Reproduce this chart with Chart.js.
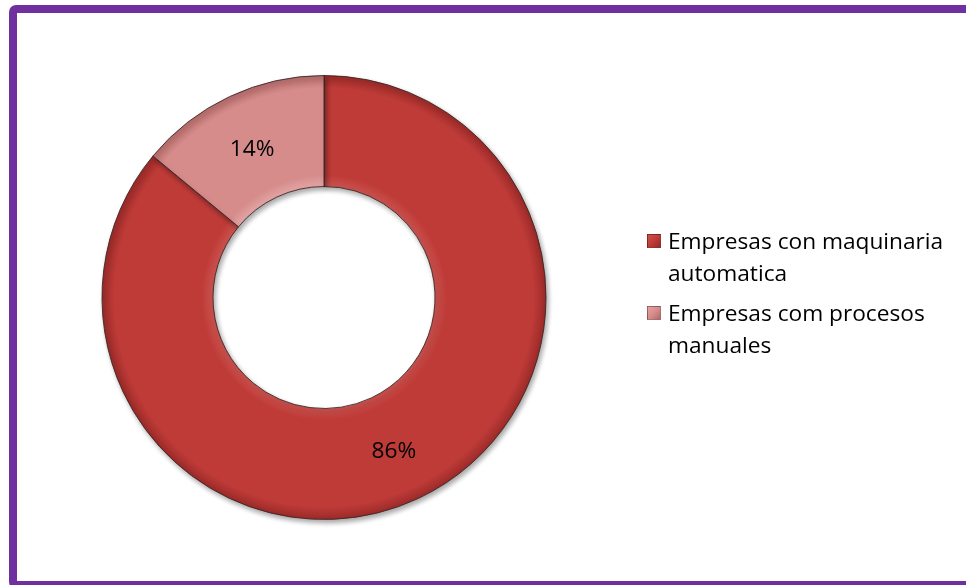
<!DOCTYPE html>
<html>
<head>
<meta charset="utf-8">
<script src="https://cdn.jsdelivr.net/npm/chart.js@4"></script>
<style>
  html, body { margin: 0; padding: 0; background: #fff; overflow: hidden; }
  #wrap { position: relative; width: 966px; height: 585px; overflow: hidden; }
  #frame {
    position: absolute; left: 9px; top: 5px; width: 980px; height: 584px;
    border: 8px solid #7030A0; border-radius: 7px; box-sizing: border-box;
  }
  #pie { position: absolute; left: 0; top: 0; }
  #legend { position: absolute; left: 647px; top: 225px; font-family: "Open Sans", sans-serif; font-size: 22.7px; color: #000; }
  .item { position: relative; padding-left: 21px; line-height: 32px; margin-bottom: 8px; }
  .sw { position: absolute; left: 0; top: 9px; width: 14px; height: 14px; box-sizing: border-box; border: 1px solid rgba(0,0,0,0.25); }
</style>
</head>
<body>
<div id="wrap">
  <canvas id="pie" width="966" height="585"></canvas>
  <div id="frame"></div>
  <div id="legend"></div>
</div>
<script>
// data
const categories = [["Empresas con maquinaria", "automatica"], ["Empresas com procesos", "manuales"]];
const values = [86, 14];
const valueLabels = ["86%", "14%"];

// fills: [inner edge, body, outer edge]
const shades = [
  ["#C9524E", "#BF3B38", "#9A2A28"],
  ["#E2A4A3", "#D68C8B", "#B46A69"],
];

function ringFill(ctx) {
  const chart = ctx.chart;
  const s = shades[ctx.dataIndex % shades.length];
  const ca = chart.chartArea;
  if (!ca) return s[1];
  const cx = (ca.left + ca.right) / 2, cy = (ca.top + ca.bottom) / 2;
  const r = Math.min(ca.right - ca.left, ca.bottom - ca.top) / 2;
  const g = chart.ctx.createRadialGradient(cx, cy, r * 0.5, cx, cy, r);
  g.addColorStop(0, s[0]);
  g.addColorStop(0.1, s[1]);
  g.addColorStop(0.88, s[1]);
  g.addColorStop(1, s[2]);
  return g;
}

// soft drop shadow under the ring
const ringShadow = {
  id: "ringShadow",
  beforeDatasetDraw(chart) {
    const c = chart.ctx;
    c.save();
    c.shadowColor = "rgba(0,0,0,0.35)";
    c.shadowBlur = 5;
    c.shadowOffsetX = 2;
    c.shadowOffsetY = 3;
  },
  afterDatasetDraw(chart) { chart.ctx.restore(); }
};

// percent text in the middle of each slice
const sliceLabels = {
  id: "sliceLabels",
  afterDatasetsDraw(chart) {
    const c = chart.ctx;
    c.save();
    c.font = "22.7px 'Open Sans', sans-serif";
    c.fillStyle = "#000";
    c.textAlign = "center";
    c.textBaseline = "middle";
    chart.getDatasetMeta(0).data.forEach((arc, i) => {
      const p = arc.tooltipPosition();
      c.fillText(valueLabels[i], p.x - 1, p.y + 3);
    });
    c.restore();
  }
};

new Chart(document.getElementById("pie"), {
  type: "doughnut",
  data: {
    labels: categories.map(l => l.join(" ")),
    datasets: [{
      data: values,
      backgroundColor: ringFill,
      borderColor: "rgba(55,35,35,0.85)",
      borderWidth: 1,
    }]
  },
  options: {
    responsive: false, animation: false,
    cutout: "50%",
    layout: { padding: { left: 101, right: 419, top: 75, bottom: 65 } },
    plugins: { legend: { display: false }, tooltip: { enabled: false } },
  },
  plugins: [ringShadow, sliceLabels]
});

// legend on the right
const legendBox = document.getElementById("legend");
categories.forEach((lines, i) => {
  const s = shades[i];
  const div = document.createElement("div");
  div.className = "item";
  div.innerHTML = `<span class="sw" style="background:linear-gradient(135deg, ${s[0]}, ${s[1]} 50%, ${s[2]})"></span>` +
    lines.join("<br>");
  legendBox.appendChild(div);
});
</script>
</body>
</html>
